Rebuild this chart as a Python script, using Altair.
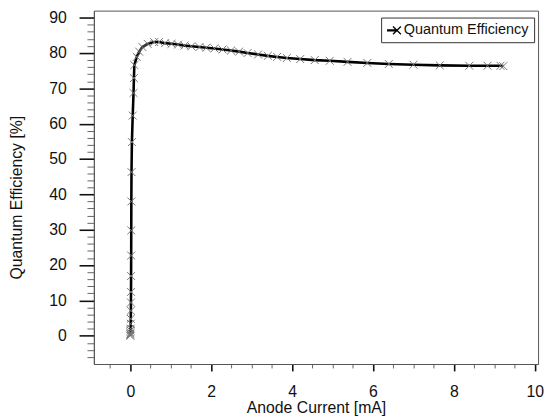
import altair as alt
import pandas as pd

# ---- data ----
current_ma = [0.000, 0.000, 0.002, 0.004, 0.006, 0.008, 0.010, 0.012, 0.014, 0.016,
              0.018, 0.020, 0.022, 0.024, 0.026, 0.030, 0.040, 0.060, 0.080, 0.090,
              0.100, 0.160, 0.220, 0.300, 0.430, 0.590, 0.710, 0.860, 1.020, 1.180,
              1.340, 1.510, 1.710, 1.880, 2.080, 2.280, 2.490, 2.690, 2.900, 3.160,
              3.400, 3.630, 3.870, 4.200, 4.560, 4.930, 5.370, 5.860, 6.390, 7.000,
              7.650, 8.380, 8.830, 9.150, 9.220]
efficiency_pct = [0.0, 0.3, 0.6, 1.0, 1.5, 2.0, 3.4, 4.8, 7.1, 9.4,
                  12.4, 16.9, 22.7, 29.8, 38.0, 46.3, 54.8, 62.3, 68.7, 72.9,
                  76.6, 78.9, 80.4, 81.7, 82.6, 83.1, 83.1, 82.8, 82.6, 82.4,
                  82.1, 81.9, 81.7, 81.5, 81.3, 81.0, 80.7, 80.4, 80.0, 79.6,
                  79.2, 78.9, 78.6, 78.3, 78.0, 77.8, 77.5, 77.2, 76.9, 76.7,
                  76.5, 76.4, 76.4, 76.4, 76.3]
series_name = "Quantum Efficiency"
x_tick_values = [v / 2 for v in range(-1, 21)]   # minor every 0.5, labelled every 2
y_tick_values = list(range(-6, 91, 2))            # minor every 2, labelled every 10

df = pd.DataFrame({
    "current": current_ma,
    "qe": efficiency_pct,
    "series": series_name,
    "idx": list(range(len(current_ma))),
})

FONT = "Liberation Sans"
CROSS = "M-1,-1L1,1M-1,1L1,-1"
LEGEND_SYMBOL = ("M-1,-0.08L0.43,-0.08M-1,0.08L0.43,0.08"
                 "M-0.14,-0.57L1,0.57M-0.14,0.57L1,-0.57")

PLOT_LEFT = 95
PLOT_TOP = 8

x_axis = alt.Axis(
    values=x_tick_values,
    labelExpr="datum.value % 2 === 0 ? toString(datum.value) : ''",
    tickSize={"condition": {"test": "datum.value % 2 === 0", "value": 7}, "value": 4},
    tickWidth={"condition": {"test": "datum.value % 2 === 0", "value": 1.6}, "value": 1},
    tickColor={"condition": {"test": "datum.value % 2 === 0", "value": "#111"}, "value": "#666"},
    labelPadding=13,
    labelFlush=False,
    labelOverlap=False,
    labelBound=False,
    grid=False,
    title="Anode Current [mA]",
    titleY=44,
    titleBaseline="middle",
)

y_axis = alt.Axis(
    values=y_tick_values,
    labelExpr="datum.value % 10 === 0 ? toString(datum.value) : ''",
    tickSize={"condition": {"test": "datum.value % 10 === 0", "value": 15}, "value": 7},
    tickWidth={"condition": {"test": "datum.value % 10 === 0", "value": 1.6}, "value": 1},
    tickColor={"condition": {"test": "datum.value % 10 === 0", "value": "#111"}, "value": "#666"},
    labelPadding=13,
    labelOverlap=False,
    labelBound=False,
    grid=False,
    title="Quantum Efficiency [%]",
    titleAngle=270,
    titleX=17 - PLOT_LEFT,
    titleY=197 - PLOT_TOP,
    titleAlign="center",
    titleBaseline="middle",
)

x_enc = alt.X("current:Q", scale=alt.Scale(domain=[-0.9, 10.08], nice=False, zero=False), axis=x_axis)
y_enc = alt.Y("qe:Q", scale=alt.Scale(domain=[-8, 92], nice=False, zero=False), axis=y_axis)

line = alt.Chart(df).mark_line(strokeWidth=2.6, interpolate="linear").encode(
    x=x_enc,
    y=y_enc,
    order="idx:Q",
    color=alt.Color(
        "series:N",
        scale=alt.Scale(range=["#000000"]),
        legend=alt.Legend(
            title=None,
            orient="none",
            legendX=386 - PLOT_LEFT,
            legendY=15 - PLOT_TOP,
            symbolType=LEGEND_SYMBOL,
            symbolSize=196,
            symbolStrokeWidth=1.3,
            symbolFillColor="transparent",
            labelFont=FONT,
            labelFontSize=14.6,
            labelColor="#111",
            labelOffset=2,
            fillColor="white",
            strokeColor="#333",
            padding=5,
        ),
    ),
)

points = alt.Chart(df).mark_point(
    shape=CROSS, size=64, filled=False, color="#777", strokeWidth=1, opacity=1
).encode(x=x_enc, y=y_enc)

chart = alt.layer(line, points).properties(
    width=450,
    height=358,
    padding={"left": PLOT_LEFT - 8, "top": 0, "right": 6, "bottom": 50},
    autosize="none",
    background="white",
).configure_view(
    stroke="#555", strokeWidth=1
).configure_axis(
    domainColor="#555",
    labelFont=FONT,
    labelFontSize=16,
    labelColor="#111",
    titleFont=FONT,
    titleFontSize=16,
    titleFontWeight="normal",
    titleColor="#111",
)

chart.save("out.html", embed_options={"renderer": "svg", "actions": False})
